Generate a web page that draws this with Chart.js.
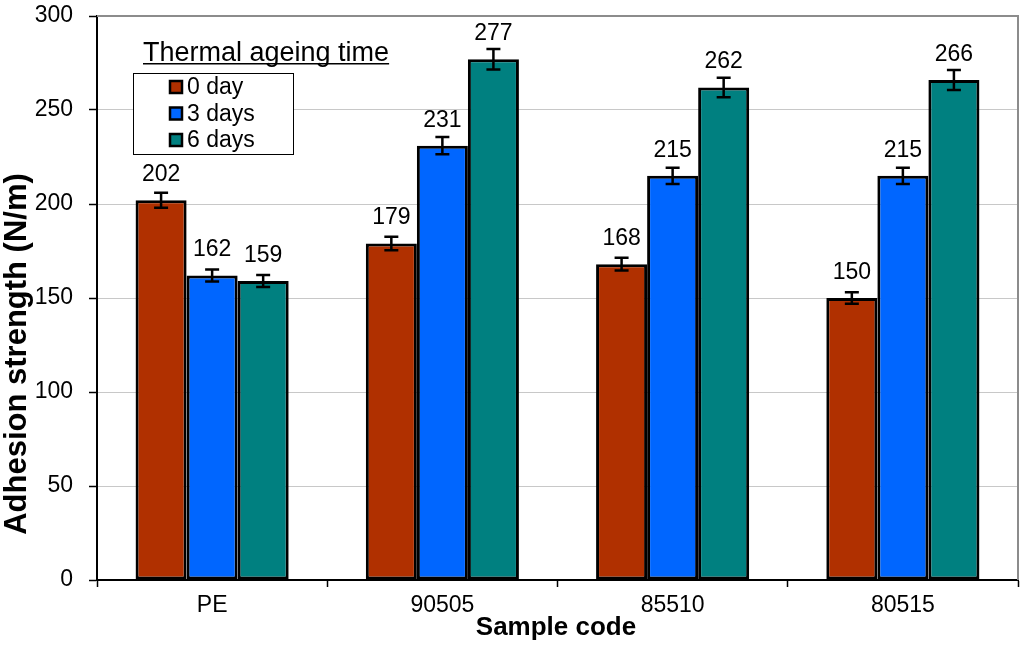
<!DOCTYPE html>
<html>
<head>
<meta charset="utf-8">
<script src="https://cdn.jsdelivr.net/npm/chart.js@4.4.1/dist/chart.umd.min.js"></script>
<style>
  html, body { margin: 0; padding: 0; background: #fff; }
  #wrap { width: 1024px; height: 646px; }
</style>
</head>
<body>
<div id="wrap"><canvas id="chart" width="1024" height="646"></canvas></div>
<script>
// -------------------------------------------------------------------
// Data
// -------------------------------------------------------------------
const categories = ["PE", "90505", "85510", "80515"];
const seriesNames = ["0 day", "3 days", "6 days"];
const day0  = [202, 179, 168, 150];
const day3  = [162, 231, 215, 215];
const day6  = [159, 277, 262, 266];
const err0  = [4.0, 3.6, 3.4, 3.0];
const err3  = [3.2, 4.6, 4.3, 4.3];
const err6  = [3.2, 5.5, 5.2, 5.3];
const yTicks = [0, 50, 100, 150, 200, 250, 300];
const legendTitle = "Thermal ageing time";
const xTitle = "Sample code";
const yTitle = "Adhesion strength (N/m)";

const COLORS = ["#B03000", "#0066FF", "#008080"];
const FONT = "'Liberation Sans', Arial, sans-serif";

// -------------------------------------------------------------------
// Plugins: error bars, value labels, legend box, axis titles
// -------------------------------------------------------------------
const errorBars = {
  id: "errorBars",
  afterDatasetsDraw(chart) {
    const ctx = chart.ctx, y = chart.scales.y;
    ctx.save();
    ctx.strokeStyle = "#000";
    ctx.lineWidth = 2.5;
    chart.data.datasets.forEach((ds, i) => {
      chart.getDatasetMeta(i).data.forEach((bar, j) => {
        const v = ds.data[j], e = ds.errors[j];
        const top = y.getPixelForValue(v + e), bot = y.getPixelForValue(v - e);
        ctx.beginPath();
        ctx.moveTo(bar.x, top); ctx.lineTo(bar.x, bot);
        ctx.moveTo(bar.x - 7, top); ctx.lineTo(bar.x + 7, top);
        ctx.moveTo(bar.x - 7, bot); ctx.lineTo(bar.x + 7, bot);
        ctx.stroke();
        // value label
        ctx.fillStyle = "#000";
        ctx.font = "23px " + FONT;
        ctx.textAlign = "center";
        ctx.textBaseline = "alphabetic";
        ctx.fillText(String(v), bar.x, bar.y - 19);
      });
    });
    ctx.restore();
  }
};

const frame = {
  id: "frame",
  beforeDatasetsDraw(chart) {
    const { ctx, chartArea: a } = chart;
    ctx.save();
    ctx.strokeStyle = "#8c8c8c";
    ctx.lineWidth = 2;
    ctx.beginPath();
    ctx.moveTo(a.left, a.top); ctx.lineTo(a.right, a.top); ctx.lineTo(a.right, a.bottom);
    ctx.stroke();
    ctx.restore();
  }
};

const legendBox = {
  id: "legendBox",
  afterDraw(chart) {
    const ctx = chart.ctx;
    ctx.save();
    // title, underlined
    ctx.fillStyle = "#000";
    ctx.font = "27px " + FONT;
    ctx.textAlign = "left";
    ctx.textBaseline = "alphabetic";
    ctx.fillText(legendTitle, 143, 61);
    const w = ctx.measureText(legendTitle).width;
    ctx.fillRect(143, 63, w, 1.5);
    // box
    ctx.fillStyle = "#fff";
    ctx.fillRect(133, 73, 160, 81);
    ctx.strokeStyle = "#000";
    ctx.lineWidth = 1;
    ctx.strokeRect(133.5, 73.5, 160, 81);
    ctx.font = "23px " + FONT;
    ctx.textBaseline = "middle";
    chart.data.datasets.forEach((ds, i) => {
      const cy = 87 + i * 26.5;
      ctx.fillStyle = ds.backgroundColor;
      ctx.fillRect(170, cy - 6, 12, 12);
      ctx.lineWidth = 2.5;
      ctx.strokeRect(170, cy - 6, 12, 12);
      ctx.fillStyle = "#000";
      ctx.fillText(ds.label, 187, cy + 1);
    });
    ctx.restore();
  }
};

const axisTitles = {
  id: "axisTitles",
  afterDraw(chart) {
    const ctx = chart.ctx;
    ctx.save();
    ctx.fillStyle = "#000";
    ctx.textAlign = "center";
    ctx.textBaseline = "middle";
    ctx.font = "bold 26px " + FONT;
    ctx.fillText(xTitle, 556, 628);
    ctx.translate(17, 354);
    ctx.rotate(-Math.PI / 2);
    ctx.font = "bold 31px " + FONT;
    ctx.fillText(yTitle, 0, 0);
    ctx.restore();
  }
};

// -------------------------------------------------------------------
// Chart
// -------------------------------------------------------------------
const seriesValues = [day0, day3, day6];
const seriesErrors = [err0, err3, err6];

new Chart(document.getElementById("chart"), {
  type: "bar",
  data: {
    labels: categories,
    datasets: seriesNames.map((name, i) => ({
      label: name,
      data: seriesValues[i],
      errors: seriesErrors[i],
      backgroundColor: COLORS[i],
      borderColor: "#000",
      borderWidth: 3,
      borderSkipped: false,
      categoryPercentage: 0.665,
      barPercentage: 1
    }))
  },
  options: {
    responsive: false,
    animation: false,
    devicePixelRatio: 1,
    layout: { padding: { top: 16, right: 6, left: 0, bottom: 0 } },
    plugins: { legend: { display: false }, tooltip: { enabled: false } },
    scales: {
      x: {
        afterFit: s => { s.height = 66; s.paddingLeft = 0; s.paddingRight = 0; },
        grid: { offset: true, drawOnChartArea: false, tickColor: "#000", tickLength: 7, tickWidth: 1.5 },
        border: { color: "#000", width: 2 },
        ticks: { color: "#000", font: { family: FONT, size: 23 }, padding: 5 }
      },
      y: {
        min: 0, max: 300,
        afterFit: s => { s.width = 97; s.paddingTop = 0; s.paddingBottom = 0; },
        afterBuildTicks: s => { s.ticks = yTicks.map(v => ({ value: v })); },
        grid: { color: "#c8c8c8", lineWidth: 1, tickColor: "#000", tickLength: 8, tickWidth: 1.5 },
        border: { color: "#000", width: 2 },
        ticks: { color: "#000", font: { family: FONT, size: 23 }, padding: 16 }
      }
    }
  },
  plugins: [frame, errorBars, legendBox, axisTitles]
});
</script>
</body>
</html>
